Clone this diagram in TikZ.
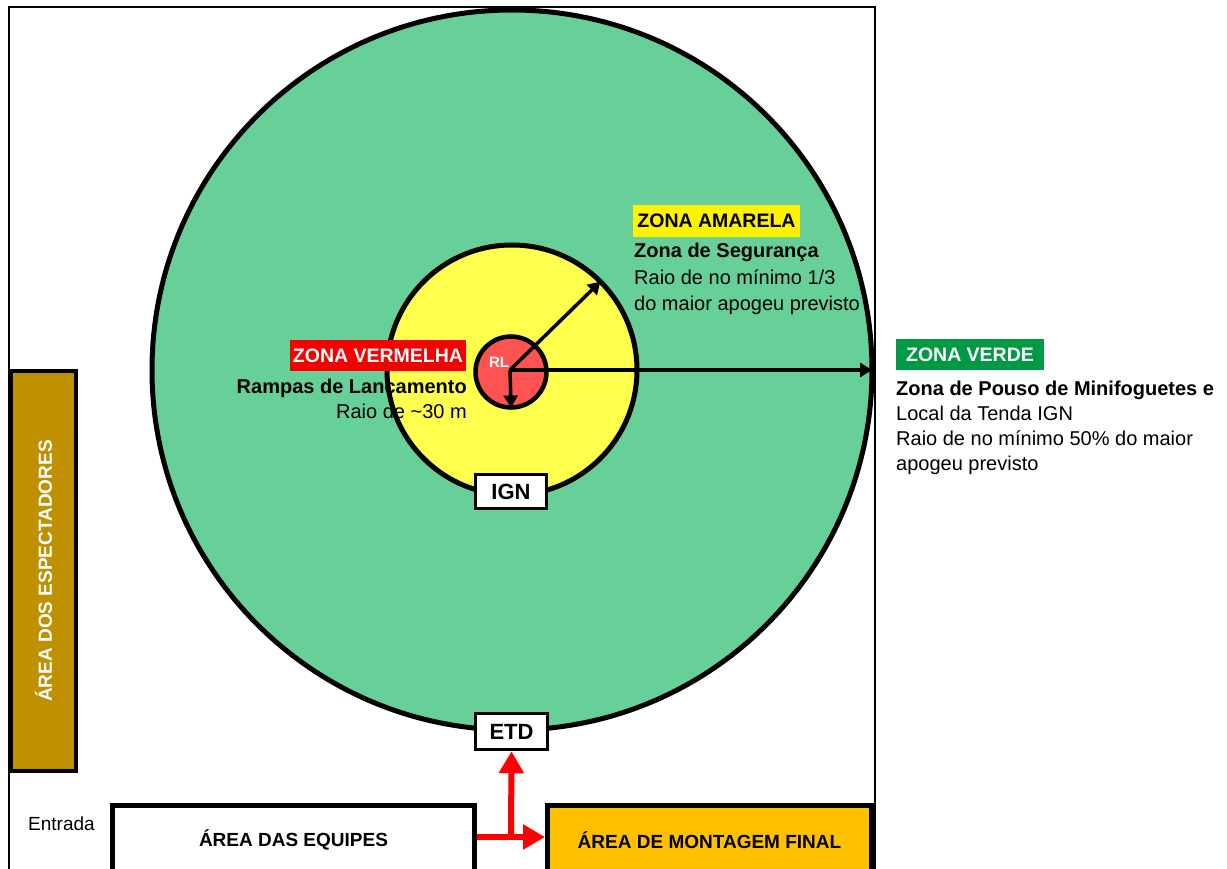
\documentclass[tikz,border=0pt]{standalone}
\usepackage{fontspec}
\setmainfont{Liberation Sans}
\usetikzlibrary{arrows.meta}
\definecolor{greenzone}{RGB}{102,208,152}
\definecolor{yellowzone}{RGB}{255,255,77}
\definecolor{redzone}{RGB}{255,82,82}
\definecolor{redlabel}{RGB}{245,0,0}
\definecolor{greenlabel}{RGB}{0,154,68}
\definecolor{spectators}{RGB}{191,144,0}
\definecolor{assembly}{RGB}{255,192,0}
\definecolor{linkred}{RGB}{255,0,0}
\newcommand\bodyfont{\fontsize{20pt}{25pt}\selectfont}
\newcommand\boldfont{\bfseries\fontsize{20pt}{25pt}\selectfont}
\newcommand\tagfont{\bfseries\fontsize{19.5pt}{25pt}\selectfont}
\newcommand\areafont{\bfseries\fontsize{19pt}{25pt}\selectfont}
\begin{document}
\begin{tikzpicture}[x=1pt,y=-1pt,
  zone/.style={circle,draw=black,inner sep=0pt,outer sep=0pt},
  tag/.style={rectangle,draw=black,fill=white,line width=3.5pt,inner sep=0pt,font=\bfseries\fontsize{22pt}{22pt}\selectfont},
  zonetag/.style={rectangle,inner sep=0pt,font=\tagfont},
  txt/.style={inner sep=0pt,font=\bodyfont},
  btxt/.style={inner sep=0pt,font=\boldfont},
  area/.style={rectangle,draw=black,line width=5pt,inner sep=0pt,font=\areafont},
  blackarrow/.style={line width=3.5pt,-{Triangle[length=12pt,width=14pt]}},
  redarrow/.style={draw=linkred,line width=6pt,-{Triangle[length=22pt,width=24pt]}}]
\useasboundingbox (0,0) rectangle (1227,869);
\clip (0,0) rectangle (1227,869);
% frame
\draw[line width=1.5pt] (9,7) rectangle (875,900);
% zones
\node[zone,fill=greenzone,line width=5pt,minimum size=720pt] (green) at (512,370) {};
\node[zone,fill=yellowzone,line width=5pt,minimum size=250pt] (yellow) at (512,370) {};
\node[zone,fill=redzone,line width=4.5pt,minimum size=71pt] (rl) at (511,372) {};
\node[inner sep=0pt,text=white,font=\bfseries\fontsize{15pt}{15pt}\selectfont] (rltext) at (499,362) {RL};
\coordinate (origin) at (510,370);
\draw[blackarrow] (origin) -- (green.east);
\draw[blackarrow] (origin) -- (yellow.45);
\draw[blackarrow] (origin) -- (rl.south);
% tents
\node[tag,minimum width=71pt,minimum height=34pt] (ign) at (511,491.5) {IGN};
\node[tag,minimum width=72pt,minimum height=36pt] (etd) at (511.5,731.5) {ETD};
% zone labels
\node[zonetag,fill=redlabel,text=white,minimum width=176pt,minimum height=31pt] (vermelha) at (378,355.5) {ZONA VERMELHA};
\node[btxt,anchor=base east] (rampas) at (467,393) {Rampas de Lancamento};
\node[txt,anchor=base east] (raio30) at (467,418) {Raio de \textasciitilde30 m};
\node[zonetag,fill=yellow,text=black,minimum width=167pt,minimum height=32pt] (amarela) at (716.5,221) {ZONA AMARELA};
\node[btxt,anchor=base west] (seg) at (634,258) {Zona de Segurança};
\node[txt,anchor=base west] (seg1) at (634,284) {Raio de no mínimo 1/3};
\node[txt,anchor=base west] (seg2) at (634,310) {do maior apogeu previsto};
\node[zonetag,fill=greenlabel,text=white,minimum width=148pt,minimum height=31pt] (verde) at (970,354.5) {ZONA VERDE};
\node[btxt,anchor=base west] (pouso) at (896,395) {Zona de Pouso de Minifoguetes e};
\node[txt,anchor=base west] (pouso1) at (896,420) {Local da Tenda IGN};
\node[txt,anchor=base west] (pouso2) at (896,445) {Raio de no mínimo 50\% do maior};
\node[txt,anchor=base west] (pouso3) at (896,470) {apogeu previsto};
% areas
\node[rectangle,draw=black,line width=4pt,fill=spectators,minimum width=65pt,minimum height=400pt,inner sep=0pt] (espect) at (43.5,571) {};
\node[inner sep=0pt,text=white,rotate=90,font=\areafont] (especttext) at (espect.center) {ÁREA DOS ESPECTADORES};
\node[area,fill=white,minimum width=362pt,minimum height=70pt] (equipes) at (293.5,840) {ÁREA DAS EQUIPES};
\node[area,fill=assembly,minimum width=324pt,minimum height=70pt] (montagem) at (709.5,840) {ÁREA DE MONTAGEM FINAL};
\node[inner sep=0pt,font=\fontsize{19pt}{25pt}\selectfont,anchor=base west] (entrada) at (28,830) {Entrada};
% red connectors
\coordinate (junction) at (511,837);
\draw[redarrow] (equipes.east |- junction) -- (montagem.west |- junction);
\draw[redarrow] (junction) -- (etd.south);
\end{tikzpicture}
\end{document}
